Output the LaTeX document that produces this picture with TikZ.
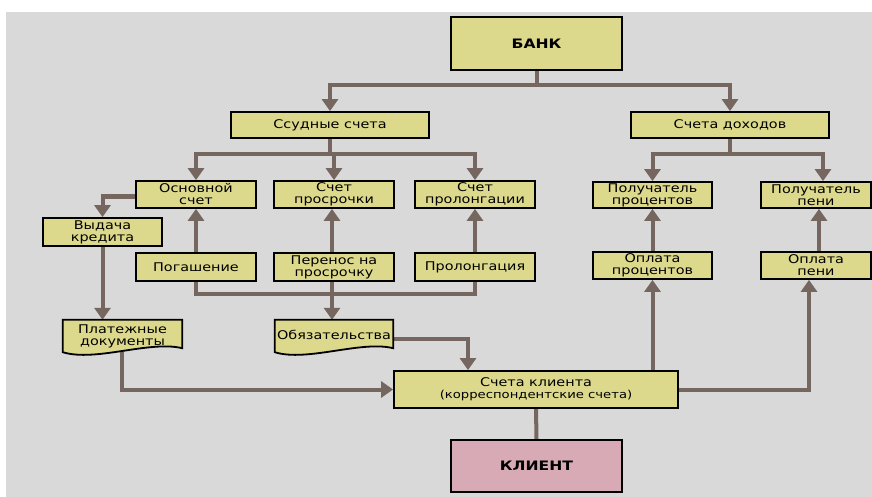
\documentclass[tikz,border=0pt]{standalone}
\usepackage{fontspec}
\setmainfont{DejaVu Sans}[FakeStretch=1.2]
\usetikzlibrary{arrows.meta,calc}
\definecolor{boxfill}{HTML}{DCD88C}
\definecolor{panel}{HTML}{D9D9D9}
\definecolor{wire}{HTML}{75665F}
\definecolor{clientfill}{HTML}{D8AAB6}
\pgfdeclarelayer{panel}
\pgfdeclarelayer{wires}
\pgfdeclarelayer{docs}
\pgfsetlayers{panel,wires,docs,main}
\tikzset{
  box/.style={draw=black, line width=1.8pt, fill=boxfill, inner sep=0pt,
    align=center, font=\fontsize{12}{12}\selectfont},
  doctext/.style={inner sep=0pt, align=center, font=\fontsize{12}{12}\selectfont},
  docline/.style={draw=black, line width=1.8pt, fill=boxfill},
  wire/.style={draw=wire, line width=4pt},
  arr/.style={wire, -{Triangle[width=16pt,length=12pt]}},
  big/.style={font=\fontsize{13}{13}\selectfont\bfseries}
}
\begin{document}
\begin{tikzpicture}[x=1pt,y=-1pt]
  % page and grey panel
  \begin{pgfonlayer}{panel}
    \fill[white] (0,0) rectangle (872,497);
    \fill[panel] (6,12) rectangle (872,497);
  \end{pgfonlayer}
  \useasboundingbox (0,0) rectangle (872,497);

  % top level
  \node[box, big, minimum width=171pt, minimum height=53pt] (bank) at (536.5,43.5) {БАНК};
  \node[box, minimum width=198pt, minimum height=26pt] (sud) at (330,125) {Ссудные счета};
  \node[box, minimum width=198pt, minimum height=26pt] (doh) at (730,125) {Счета доходов};

  % accounts
  \node[box, minimum width=120pt, minimum height=27pt] (osn) at (196,194.5) {Основной\\счет};
  \node[box, minimum width=120pt, minimum height=27pt] (pros) at (334,194.5) {Счет\\просрочки};
  \node[box, minimum width=120pt, minimum height=27pt] (prol) at (475,194.5) {Счет\\пролонгации};
  \node[box, minimum width=119pt, minimum height=26pt] (polp) at (652.5,195) {Получатель\\процентов};
  \node[box, minimum width=110pt, minimum height=26pt] (polpeni) at (816,195) {Получатель\\пени};

  % operations
  \node[box, minimum width=119pt, minimum height=28pt] (vyd) at (102.5,232) {Выдача\\кредита};
  \node[box, minimum width=120pt, minimum height=28pt] (pog) at (196,267) {Погашение};
  \node[box, minimum width=120pt, minimum height=28pt] (per) at (334,267) {Перенос на\\просрочку};
  \node[box, minimum width=120pt, minimum height=28pt] (prl) at (475,267) {Пролонгация};
  \node[box, minimum width=119pt, minimum height=27pt] (oplp) at (652.5,265.5) {Оплата\\процентов};
  \node[box, minimum width=110pt, minimum height=27pt] (oplpeni) at (816,265.5) {Оплата\\пени};

  % documents (wavy bottom edge)
  \node[doctext, minimum width=119pt, minimum height=32pt] (plat) at (122.5,336) {Платежные\\документы};
  \node[doctext, minimum width=118pt, minimum height=32pt] (obyaz) at (334,336) {\raisebox{2pt}{Обязательства}};
  \begin{pgfonlayer}{docs}
    \foreach \d in {plat,obyaz}{
      \path[docline] (\d.north west) -- (\d.north east) -- ($(\d.south east)+(0,-4)$)
        .. controls ($(\d.south)+(27,-12)$) and ($(\d.south)+(-27,10)$) .. (\d.south west) -- cycle;
    }
  \end{pgfonlayer}

  % client side
  \node[box, minimum width=284pt, minimum height=37pt] (kl) at (536,389.5)
    {Счета клиента\\{\fontsize{11}{12}\selectfont(корреспондентские счета)}};
  \node[box, big, fill=clientfill, minimum width=171pt, minimum height=52pt] (client) at (536.5,466) {КЛИЕНТ};

  % connectors
  \begin{pgfonlayer}{wires}
    \draw[arr] (bank.south) -- ++(0,14) -| (sud.north);
    \draw[arr] (bank.south) -- ++(0,14) -| (doh.north);

    \draw[arr] (sud.south) -- ++(0,15) -| (osn.north);
    \draw[arr] (sud.south) -- ++(0,15) -| (pros.north);
    \draw[arr] (sud.south) -- ++(0,15) -| (prol.north);

    \draw[arr] (doh.south) -- ++(0,15) -| (polp.north);
    \draw[arr] (doh.south) -- ++(0,15) -| ([xshift=7pt]polpeni.north);

    \draw[arr] ([yshift=-2pt]osn.west) -| (vyd.north);

    \draw[arr] (pog.north) -- (osn.south);
    \draw[arr] ([xshift=-2pt]per.north) -- ([xshift=-2pt]pros.south);
    \draw[arr] (prl.north) -- (prol.south);
    \draw[arr] (oplp.north) -- (polp.south);
    \draw[arr] ([xshift=3pt]oplpeni.north) -- ([xshift=3pt]polpeni.south);

    \draw[wire] (pog.south) -- ++(0,12) -| (prl.south);
    \draw[arr] ([xshift=-2pt]per.south) -- ([xshift=-2pt]per.south |- obyaz.north);
    \draw[arr] (vyd.south) -- (vyd.south |- plat.north);

    \draw[arr] ([xshift=-1pt]plat.south) |- (kl.west);
    \draw[arr] ([yshift=-3pt]obyaz.east) -| ([xshift=-68pt]kl.north);
    \draw[arr] (kl.north -| oplp.south) -- (oplp.south);
    \draw[arr] (kl.east) -| ([xshift=-7pt]oplpeni.south);
    \draw[wire] (kl.south) -- (client.north);
  \end{pgfonlayer}
\end{tikzpicture}
\end{document}
